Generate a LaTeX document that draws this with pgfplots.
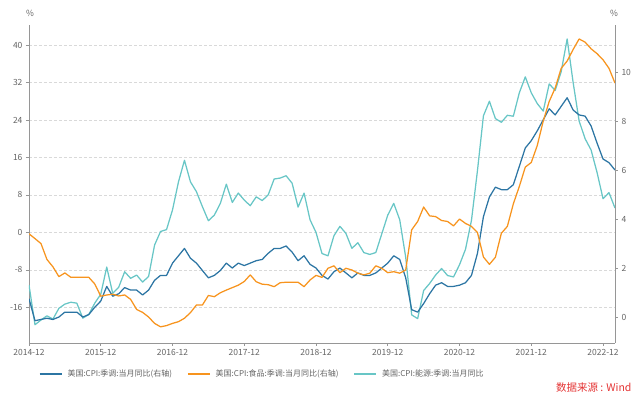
\documentclass[border=0pt]{standalone}
\usepackage{pgfplots}
\pgfplotsset{compat=1.18}
\usepackage{fontspec}
\setmainfont{Noto Sans CJK SC}
\definecolor{cblue}{RGB}{44,117,163}
\definecolor{corange}{RGB}{247,148,30}
\definecolor{cteal}{RGB}{104,198,198}
\definecolor{caxis}{RGB}{150,150,150}
\definecolor{ctext}{RGB}{100,100,100}
\definecolor{cred}{RGB}{228,52,52}

\pgfplotstableread{
i v
0 -11.2
1 -19.7
2 -18.7
3 -17.8
4 -18.5
5 -16.2
6 -15.3
7 -14.9
8 -15.1
9 -18.3
10 -17.5
11 -15.1
12 -13.2
13 -7.4
14 -13.0
15 -11.7
16 -8.4
17 -9.8
18 -9.1
19 -10.6
20 -9.4
21 -2.7
22 0.2
23 0.6
24 4.8
25 10.8
26 15.4
27 10.8
28 8.7
29 5.5
30 2.5
31 3.7
32 6.2
33 10.3
34 6.4
35 8.4
36 6.9
37 5.7
38 7.6
39 6.8
40 8.0
41 11.4
42 11.6
43 12.1
44 10.5
45 5.4
46 8.4
47 2.7
48 0.0
49 -4.5
50 -5.0
51 -0.7
52 1.3
53 -0.2
54 -3.4
55 -2.2
56 -4.3
57 -4.7
58 -4.3
59 -0.3
60 3.7
61 6.2
62 2.7
63 -5.3
64 -17.6
65 -18.4
66 -12.4
67 -10.9
68 -9.1
69 -7.7
70 -9.2
71 -9.5
72 -6.9
73 -3.6
74 2.6
75 13.2
76 24.9
77 28.0
78 24.3
79 23.5
80 25.0
81 24.8
82 29.8
83 33.2
84 29.8
85 27.5
86 25.9
87 31.7
88 30.3
89 34.3
90 41.3
91 32.0
92 23.8
93 20.0
94 17.6
95 12.8
96 7.2
97 8.5
98 5.2
}\energy

\pgfplotstableread{
i v
0 0.75
1 -0.15
2 -0.1
3 -0.05
4 -0.1
5 0.0
6 0.2
7 0.2
8 0.2
9 0.0
10 0.1
11 0.4
12 0.65
13 1.25
14 0.85
15 0.95
16 1.2
17 1.1
18 1.1
19 0.9
20 1.1
21 1.5
22 1.7
23 1.7
24 2.2
25 2.5
26 2.8
27 2.4
28 2.2
29 1.9
30 1.6
31 1.7
32 1.9
33 2.2
34 2.0
35 2.2
36 2.1
37 2.2
38 2.3
39 2.35
40 2.6
41 2.8
42 2.8
43 2.9
44 2.65
45 2.3
46 2.5
47 2.15
48 2.0
49 1.7
50 1.55
51 1.85
52 2.0
53 1.8
54 1.6
55 1.8
56 1.7
57 1.7
58 1.8
59 2.0
60 2.2
61 2.5
62 2.35
63 1.6
64 0.3
65 0.2
66 0.55
67 0.95
68 1.3
69 1.4
70 1.25
71 1.25
72 1.3
73 1.4
74 1.7
75 2.6
76 4.1
77 4.9
78 5.3
79 5.2
80 5.2
81 5.4
82 6.15
83 6.9
84 7.2
85 7.6
86 8.05
87 8.5
88 8.25
89 8.6
90 8.95
91 8.45
92 8.25
93 8.2
94 7.8
95 7.1
96 6.45
97 6.3
98 6.0
}\cpi

\pgfplotstableread{
i v
0 3.4
1 3.2
2 3.0
3 2.35
4 2.05
5 1.65
6 1.8
7 1.62
8 1.62
9 1.62
10 1.62
11 1.35
12 0.85
13 0.9
14 0.93
15 0.86
16 0.9
17 0.72
18 0.31
19 0.19
20 0.0
21 -0.26
22 -0.4
23 -0.35
24 -0.26
25 -0.19
26 -0.05
27 0.18
28 0.49
29 0.49
30 0.88
31 0.83
32 0.99
33 1.1
34 1.2
35 1.3
36 1.45
37 1.72
38 1.44
39 1.34
40 1.32
41 1.24
42 1.4
43 1.42
44 1.42
45 1.42
46 1.24
47 1.51
48 1.7
49 1.62
50 1.99
51 2.09
52 1.81
53 1.99
54 1.92
55 1.79
56 1.72
57 1.79
58 2.09
59 1.99
60 1.81
61 1.85
62 1.79
63 1.92
64 3.56
65 3.9
66 4.49
67 4.13
68 4.1
69 3.94
70 3.9
71 3.72
72 4.0
73 3.82
74 3.7
75 3.45
76 2.45
77 2.15
78 2.44
79 3.42
80 3.7
81 4.62
82 5.33
83 6.12
84 6.31
85 7.0
86 8.0
87 8.8
88 9.35
89 10.15
90 10.45
91 10.92
92 11.35
93 11.22
94 10.95
95 10.75
96 10.5
97 10.15
98 9.55
}\food

\pgfplotsset{
  common/.style={
    at={(29pt,55pt)}, anchor=south west,
    scale only axis, width=586pt, height=318pt,
    xmin=0, xmax=98,
    axis line style={caxis, line width=0.8pt},
    tick style={caxis, line width=0.6pt},
    major tick length=3pt,
    tick align=outside,
    tick label style={text=ctext, font=\fontsize{8.5}{10}\selectfont},
    /pgf/number format/assume math mode=true,
    every axis plot/.append style={line width=1.25pt, line join=round},
  }
}

\begin{document}
\begin{tikzpicture}[x=1pt,y=1pt]
\path[use as bounding box] (0,0) rectangle (640,398);

\begin{axis}[common,
  axis y line*=left, axis x line*=bottom,
  ymin=-23.6, ymax=44.27,
  ytick={-16,-8,0,8,16,24,32,40},
  xtick={0,12,...,96},
  xticklabels={2014-12,2015-12,2016-12,2017-12,2018-12,2019-12,2020-12,2021-12,2022-12},
  ymajorgrids, grid style={gray!30, dash pattern=on 3pt off 2pt, line width=0.6pt},
]
\addplot[cteal, no markers] table[x=i, y=v] {\energy};
\end{axis}

\begin{axis}[common,
  axis y line*=right, axis x line=none,
  ymin=-1.06, ymax=11.92,
  ytick={0,2,4,6,8,10},
  legend columns=3,
  legend style={at={(0.398,-0.097)}, anchor=center, draw=none, fill=none,
    font=\fontsize{8}{10}\selectfont, text=ctext,
    /tikz/every odd column/.append style={column sep=3pt},
    /tikz/every even column/.append style={column sep=13pt}},
  legend image code/.code={\draw[#1, line width=1.6pt] (0pt,0pt) -- (22pt,0pt);},
]
\addplot[cblue, no markers] table[x=i, y=v] {\cpi};
\addlegendentry{美国:CPI:季调:当月同比(右轴)}
\addplot[corange, no markers] table[x=i, y=v] {\food};
\addlegendentry{美国:CPI:食品:季调:当月同比(右轴)}
\addlegendimage{cteal}
\addlegendentry{美国:CPI:能源:季调:当月同比}
\end{axis}

\node[text=ctext, font=\fontsize{8.5}{10}\selectfont] at (30,385) {\%};
\node[text=ctext, font=\fontsize{8.5}{10}\selectfont] at (614,385) {\%};
\node[anchor=east, text=cred, font=\fontsize{10.5}{12}\selectfont] at (635,10) {数据来源 : Wind};
\end{tikzpicture}
\end{document}
